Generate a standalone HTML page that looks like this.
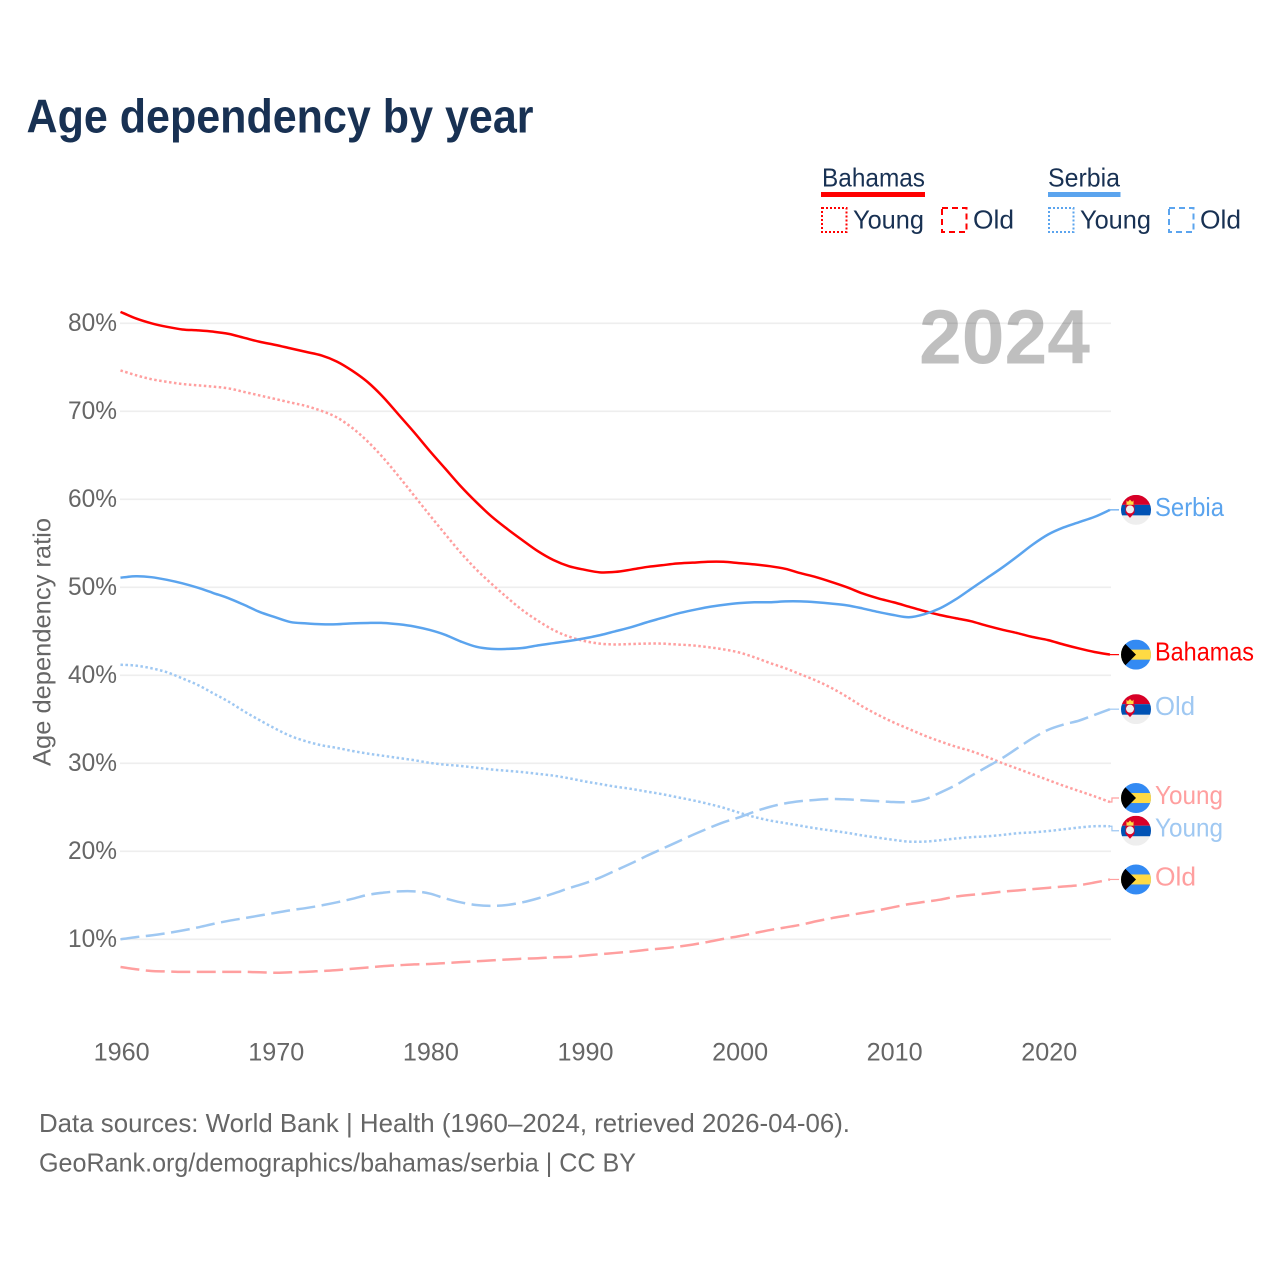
<!DOCTYPE html>
<html lang="en">
<head>
<meta charset="utf-8">
<title>Age dependency by year</title>
<style>
html,body{margin:0;padding:0;background:#fff;}
svg{display:block;font-family:"Liberation Sans",sans-serif;}
</style>
</head>
<body>
<svg id="chart" xmlns="http://www.w3.org/2000/svg" width="1280" height="1280" viewBox="0 0 1280 1280">
  <defs>
    <clipPath id="flag-clip"><circle cx="0" cy="0" r="15"/></clipPath>
    <g id="flag-serbia" clip-path="url(#flag-clip)">
      <rect x="-15" y="-15" width="30" height="30" fill="#eeeeee"/>
      <rect x="-15" y="-15" width="30" height="10" fill="#d80027"/>
      <rect x="-15" y="-5" width="30" height="10.5" fill="#0052b4"/>
      <path d="M-9.5-9.5l1.4 1.5 2.1-2.2 2.1 2.2 1.4-1.5v4.5h-7z" fill="#ffda44"/>
      <path d="M-10.5-5h9v8l-4.5 5-4.5-5z" fill="#d80027"/>
      <circle cx="-6" cy="-0.5" r="4" fill="#f0f0f0"/>
    </g>
    <g id="flag-bahamas" clip-path="url(#flag-clip)">
      <rect x="-15" y="-15" width="30" height="30" fill="#338af3"/>
      <rect x="-15" y="-5" width="30" height="10" fill="#ffda44"/>
      <path d="M-15-15L0 0-15 15z" fill="#000000"/>
    </g>
  </defs>

  <text x="26.5" y="132.5" font-size="47" font-weight="700" fill="#183153" textLength="507" lengthAdjust="spacingAndGlyphs">Age dependency by year</text>

  <g id="grid"></g>

  <text x="919" y="363.5" font-size="77" font-weight="700" fill="rgba(0,0,0,0.25)" textLength="171" lengthAdjust="spacingAndGlyphs">2024</text>

  <g>
    <g>
      <text x="822" y="186.5" font-size="25.6" fill="#183153" textLength="103" lengthAdjust="spacingAndGlyphs">Bahamas</text>
      <rect x="821" y="192" width="104" height="5" fill="#ff0000"/>
      <rect x="822" y="208" width="24.5" height="24" fill="none" stroke="#ff0000" stroke-width="2" stroke-dasharray="2 2"/>
      <text x="853" y="228.5" font-size="25.6" fill="#183153" textLength="71" lengthAdjust="spacingAndGlyphs">Young</text>
      <rect x="942" y="208" width="24.5" height="24" fill="none" stroke="#ff0000" stroke-width="2" stroke-dasharray="6 4"/>
      <text x="973" y="228.5" font-size="25.6" fill="#183153" textLength="41" lengthAdjust="spacingAndGlyphs">Old</text>
    </g>
    <g>
      <text x="1048" y="186.5" font-size="25.6" fill="#183153" textLength="72" lengthAdjust="spacingAndGlyphs">Serbia</text>
      <rect x="1048" y="192" width="72.5" height="5" fill="#5ba4ee"/>
      <rect x="1049" y="208" width="24.5" height="24" fill="none" stroke="#5ba4ee" stroke-width="2" stroke-dasharray="2 2"/>
      <text x="1080" y="228.5" font-size="25.6" fill="#183153" textLength="71" lengthAdjust="spacingAndGlyphs">Young</text>
      <rect x="1169" y="208" width="24.5" height="24" fill="none" stroke="#5ba4ee" stroke-width="2" stroke-dasharray="6 4"/>
      <text x="1200" y="228.5" font-size="25.6" fill="#183153" textLength="41" lengthAdjust="spacingAndGlyphs">Old</text>
    </g>
  </g>

  <text transform="translate(50.5,642) rotate(-90)" text-anchor="middle" font-size="25" fill="#666666" textLength="248" lengthAdjust="spacingAndGlyphs">Age dependency ratio</text>

  <g id="y-ticks"></g>
  <g id="x-ticks"></g>
  <g id="series"></g>
  <g id="end-labels"></g>

  <text x="39" y="1132" font-size="25.6" fill="#666666" textLength="811" lengthAdjust="spacingAndGlyphs">Data sources: World Bank | Health (1960–2024, retrieved 2026-04-06).</text>
  <text x="39" y="1171.5" font-size="25.6" fill="#666666" textLength="597" lengthAdjust="spacingAndGlyphs">GeoRank.org/demographics/bahamas/serbia | CC BY</text>
</svg>

<script>
const firstYear = 1960;
const xTickYears = [1960, 1970, 1980, 1990, 2000, 2010, 2020];
const yTickValues = [10, 20, 30, 40, 50, 60, 70, 80];

const bahamasTotal = [
  81.3,80.55,80.0,79.6,79.3,79.2,79.05,78.8,78.35,77.9,
  77.55,77.15,76.75,76.35,75.65,74.6,73.3,71.6,69.6,67.6,
  65.5,63.5,61.5,59.7,58.05,56.65,55.35,54.1,53.1,52.4,
  52.0,51.7,51.75,52.0,52.3,52.5,52.7,52.8,52.9,52.9,
  52.75,52.6,52.4,52.1,51.6,51.15,50.6,50.0,49.3,48.75,
  48.3,47.8,47.3,46.85,46.5,46.15,45.65,45.2,44.8,44.35,
  44.0,43.5,43.05,42.65,42.35];
const bahamasYoung = [
  74.65,74.1,73.65,73.35,73.1,72.95,72.8,72.6,72.2,71.8,
  71.4,71.0,70.6,70.05,69.3,68.1,66.55,64.7,62.6,60.4,
  58.2,56.05,53.95,52.05,50.4,48.85,47.4,46.2,45.15,44.4,
  43.9,43.6,43.5,43.55,43.6,43.6,43.5,43.4,43.2,42.95,
  42.6,42.05,41.4,40.8,40.1,39.4,38.55,37.55,36.45,35.5,
  34.65,33.9,33.15,32.5,31.9,31.4,30.75,30.05,29.4,28.75,
  28.1,27.45,26.85,26.25,25.6];
const bahamasOld = [
  6.85,6.6,6.4,6.35,6.3,6.3,6.3,6.3,6.3,6.25,
  6.2,6.25,6.3,6.4,6.5,6.65,6.8,6.95,7.05,7.15,
  7.2,7.3,7.4,7.5,7.6,7.7,7.8,7.85,7.95,8.0,
  8.15,8.3,8.45,8.6,8.8,8.95,9.15,9.4,9.7,10.05,
  10.35,10.7,11.05,11.35,11.65,12.05,12.4,12.7,13.0,13.3,
  13.65,14.0,14.25,14.5,14.85,15.05,15.2,15.4,15.55,15.7,
  15.85,16.0,16.15,16.45,16.8];
const serbiaTotal = [
  51.1,51.25,51.15,50.85,50.45,49.95,49.35,48.75,48.0,47.2,
  46.6,46.05,45.9,45.8,45.8,45.9,45.95,45.95,45.8,45.55,
  45.15,44.6,43.85,43.25,43.0,43.0,43.1,43.4,43.65,43.9,
  44.2,44.55,45.0,45.45,46.0,46.5,47.0,47.4,47.75,48.0,
  48.2,48.3,48.3,48.4,48.4,48.3,48.15,47.95,47.6,47.2,
  46.85,46.6,46.95,47.6,48.6,49.8,51.0,52.2,53.5,54.85,
  56.0,56.8,57.4,58.0,58.8];
const serbiaYoung = [
  41.2,41.1,40.8,40.35,39.65,38.9,37.95,37.0,35.9,34.9,
  33.95,33.1,32.5,32.05,31.75,31.4,31.1,30.85,30.6,30.35,
  30.05,29.85,29.7,29.5,29.3,29.15,29.0,28.8,28.6,28.3,
  27.95,27.65,27.35,27.1,26.8,26.5,26.15,25.8,25.4,24.95,
  24.4,23.9,23.5,23.2,22.9,22.6,22.35,22.1,21.8,21.55,
  21.3,21.1,21.1,21.25,21.45,21.6,21.7,21.85,22.05,22.15,
  22.3,22.5,22.7,22.85,22.85];
const serbiaOld = [
  10.0,10.25,10.45,10.7,11.0,11.35,11.75,12.1,12.4,12.7,
  13.0,13.3,13.55,13.85,14.2,14.6,15.05,15.3,15.45,15.45,
  15.2,14.65,14.2,13.9,13.8,13.9,14.2,14.65,15.2,15.8,
  16.35,17.0,17.8,18.6,19.45,20.25,21.05,21.85,22.6,23.3,
  23.85,24.5,25.05,25.45,25.7,25.85,25.95,25.9,25.8,25.7,
  25.6,25.6,25.9,26.65,27.5,28.55,29.55,30.55,31.7,32.85,
  33.8,34.4,34.85,35.5,36.15];

const NS = 'http://www.w3.org/2000/svg';
const xScale = function (year) { return 120.5 + (year - firstYear) * 15.46; };
const yScale = function (value) { return 1027.3 - value * 8.8; };

function make(tag, attrs, parent, text) {
  const el = document.createElementNS(NS, tag);
  Object.keys(attrs).forEach(function (k) { el.setAttribute(k, attrs[k]); });
  if (text !== undefined) el.textContent = text;
  parent.appendChild(el);
  return el;
}

function smoothPath(values) {
  const pts = values.map(function (v, i) { return [xScale(firstYear + i), yScale(v)]; });
  let d = 'M' + pts[0][0].toFixed(2) + ' ' + pts[0][1].toFixed(2);
  for (let i = 0; i < pts.length - 1; i++) {
    const p0 = pts[Math.max(0, i - 1)], p1 = pts[i], p2 = pts[i + 1], p3 = pts[Math.min(pts.length - 1, i + 2)];
    const c1x = p1[0] + (p2[0] - p0[0]) / 6, c1y = p1[1] + (p2[1] - p0[1]) / 6;
    const c2x = p2[0] - (p3[0] - p1[0]) / 6, c2y = p2[1] - (p3[1] - p1[1]) / 6;
    d += 'C' + c1x.toFixed(2) + ' ' + c1y.toFixed(2) + ' ' + c2x.toFixed(2) + ' ' + c2y.toFixed(2) + ' ' + p2[0].toFixed(2) + ' ' + p2[1].toFixed(2);
  }
  return d;
}

const gridG = document.getElementById('grid');
const yTicksG = document.getElementById('y-ticks');
yTickValues.forEach(function (v) {
  const line = make('line', {x1: 120, x2: 1111, y1: yScale(v), y2: yScale(v), stroke: '#eeeeee', 'stroke-width': 1.6}, gridG);
  
  
  const label = make('text', {x: 117, y: yScale(v) + 7.5, 'text-anchor': 'end', 'font-size': 25, fill: '#666666', textLength: 49, lengthAdjust: 'spacingAndGlyphs'}, yTicksG, v + '%');
  
  
});

const xTicksG = document.getElementById('x-ticks');
xTickYears.forEach(function (yr) {
  const label = make('text', {x: xScale(yr) + 1.2, y: 1060.5, 'text-anchor': 'middle', 'font-size': 25, fill: '#666666', textLength: 56, lengthAdjust: 'spacingAndGlyphs'}, xTicksG, String(yr));
  
  
});

const RED = '#ff0000', BLUE = '#5ba4ee', LRED = '#ff9f9f', LBLUE = '#9fc8f2';
const DOT = '2.5 2.5', DASH = '19 6.5';
const seriesList = [
  {id: 'bahamas-old', values: bahamasOld, color: LRED, dash: DASH, width: 2.5, label: 'Old', flag: 'bahamas', nudge: 0, lw: 41},
  {id: 'bahamas-young', values: bahamasYoung, color: LRED, dash: DOT, width: 2.5, label: 'Young', flag: 'bahamas', nudge: -4, lw: 68},
  {id: 'serbia-old', values: serbiaOld, color: LBLUE, dash: DASH, width: 2.5, label: 'Old', flag: 'serbia', nudge: 0, lw: 40},
  {id: 'serbia-young', values: serbiaYoung, color: LBLUE, dash: DOT, width: 2.5, label: 'Young', flag: 'serbia', nudge: 4.5, lw: 68},
  {id: 'bahamas-total', values: bahamasTotal, color: RED, dash: null, width: 2.5, label: 'Bahamas', flag: 'bahamas', nudge: 0, lw: 99},
  {id: 'serbia-total', values: serbiaTotal, color: BLUE, dash: null, width: 2.5, label: 'Serbia', flag: 'serbia', nudge: 0, lw: 69}
];

const seriesG = document.getElementById('series');
const labelsG = document.getElementById('end-labels');
seriesList.forEach(function (s) {
  const line = make('path', {d: smoothPath(s.values), fill: 'none', stroke: s.color, 'stroke-width': s.width, 'stroke-linejoin': 'round'}, seriesG);
  if (s.dash) line.setAttribute('stroke-dasharray', s.dash);
  
  

  const lastIndex = s.values.length - 1;
  const endX = xScale(firstYear + lastIndex);
  const endY = yScale(s.values[lastIndex]);
  const labelY = endY + s.nudge;
  const conn = make('path', {d: 'M' + endX + ' ' + endY + 'H' + (endX + 2) + 'V' + labelY + 'H1119', fill: 'none', stroke: s.color, 'stroke-width': 1.2}, labelsG);
  
  

  const flag = make('use', {href: '#flag-' + s.flag, transform: 'translate(1136 ' + labelY + ')'}, labelsG);
  
  

  const text = make('text', {x: 1155, y: labelY + 6, 'font-size': 25.6, fill: s.color, textLength: s.lw, lengthAdjust: 'spacingAndGlyphs'}, labelsG, s.label);
  
  
});
</script>
</body>
</html>
